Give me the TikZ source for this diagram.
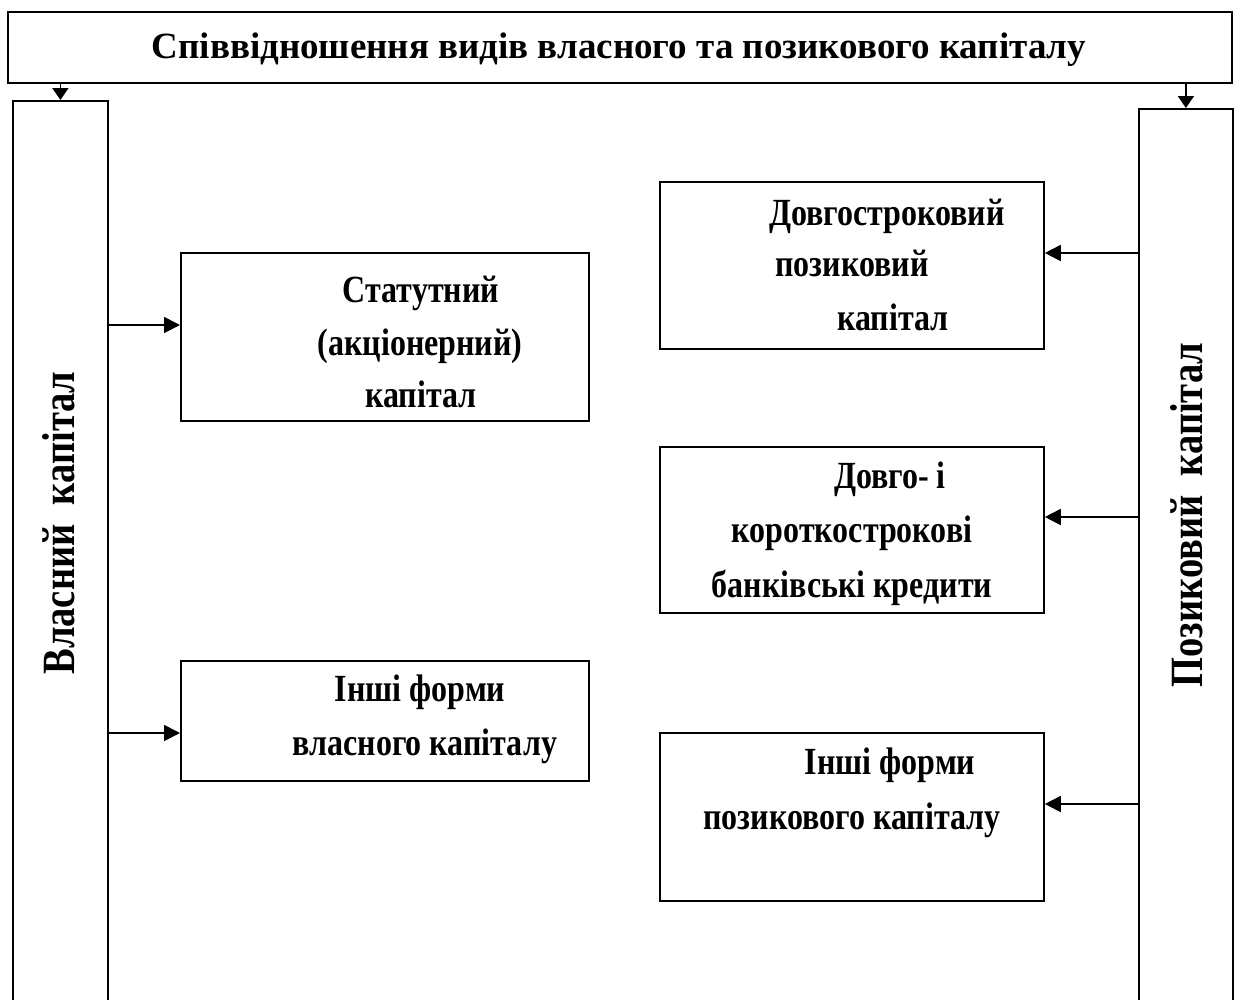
\documentclass[tikz,border=0pt]{standalone}
\usepackage{fontspec}
\usepackage{graphicx}
\setmainfont{Liberation Serif}
\usetikzlibrary{arrows.meta}
\newcommand{\tallbox}[1]{\scalebox{1}[1.2]{#1}}
\tikzset{
  box/.style={draw, line width=1.8pt, rectangle, inner sep=0pt},
  arr/.style={line width=1.8pt, -{Triangle[length=16pt,width=16pt]}},
  arrtop/.style={line width=1.8pt, -{Triangle[length=12pt,width=16pt]}},
  lbl/.style={font=\fontsize{32}{36}\selectfont\bfseries, inner sep=0pt, anchor=base},
  vlbl/.style={font=\fontsize{38.5}{42}\selectfont\bfseries, inner sep=0pt, rotate=90, anchor=base},
}
\begin{document}
\begin{tikzpicture}[x=1pt,y=-1pt]
\useasboundingbox (0,0) rectangle (1234,999);
\clip (0,0) rectangle (1234,999);
% title
\node[box, minimum width=1224pt, minimum height=71pt] (title) at (620,47.5) {};
\node[font=\fontsize{37}{40}\selectfont\bfseries, inner sep=0pt, anchor=base] (titletext) at (619,58) {Співвідношення видів власного та позикового капіталу};
% columns
\node[box, minimum width=95pt, minimum height=920pt, anchor=north west] (own) at (12,100) {};
\node[box, minimum width=94pt, minimum height=910pt, anchor=north west] (borrowed) at (1138,108) {};
\node[vlbl] (owntext) at (74,523) {\tallbox{Власний\ \ капітал}};
\node[vlbl] (borrowedtext) at (1202,515) {\tallbox{Позиковий\ \ капітал}};
% left boxes
\node[box, minimum width=408pt, minimum height=168pt, anchor=north west] (stat) at (180,252) {};
\node[lbl] (stat1) at (421,302) {\tallbox{Статутний}};
\node[lbl] (stat2) at (420,355) {\tallbox{(акціонерний)}};
\node[lbl] (stat3) at (421,407) {\tallbox{капітал}};
\node[box, minimum width=408pt, minimum height=120pt, anchor=north west] (otherown) at (180,660) {};
\node[lbl] (otherown1) at (420,701) {\tallbox{Інші форми}};
\node[lbl] (otherown2) at (425,755) {\tallbox{власного капіталу}};
% right boxes
\node[box, minimum width=384pt, minimum height=167pt, anchor=north west] (long) at (659,181) {};
\node[lbl] (long1) at (887,225) {\tallbox{Довгостроковий}};
\node[lbl] (long2) at (852,276) {\tallbox{позиковий}};
\node[lbl] (long3) at (893,330) {\tallbox{капітал}};
\node[box, minimum width=384pt, minimum height=166pt, anchor=north west] (bank) at (659,446) {};
\node[lbl] (bank1) at (890,488) {\tallbox{Довго- і}};
\node[lbl] (bank2) at (852,542) {\tallbox{короткострокові}};
\node[lbl] (bank3) at (852,597) {\tallbox{банківські кредити}};
\node[box, minimum width=384pt, minimum height=168pt, anchor=north west] (otherborrow) at (659,732) {};
\node[lbl] (otherborrow1) at (890,774) {\tallbox{Інші форми}};
\node[lbl] (otherborrow2) at (852,829) {\tallbox{позикового капіталу}};
% arrows
\draw[arrtop] (own.north |- title.south) -- (own.north);
\draw[arrtop] (borrowed.north |- title.south) -- (borrowed.north);
\draw[arr] (own.east |- 0,325) -- (stat.west |- 0,325);
\draw[arr] (own.east |- 0,733) -- (otherown.west |- 0,733);
\draw[arr] (borrowed.west |- 0,253) -- (long.east |- 0,253);
\draw[arr] (borrowed.west |- 0,517) -- (bank.east |- 0,517);
\draw[arr] (borrowed.west |- 0,804) -- (otherborrow.east |- 0,804);
\end{tikzpicture}
\end{document}
